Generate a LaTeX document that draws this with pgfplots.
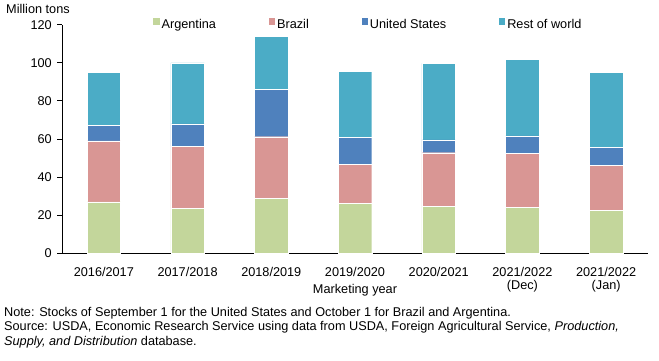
\documentclass[border=0pt]{standalone}
\usepackage{pgfplots}
\pgfplotsset{compat=1.18}
\usepackage{fontspec}
\setmainfont{Liberation Sans}
\definecolor{arg}{HTML}{C3D69B}
\definecolor{bra}{HTML}{D99694}
\definecolor{usa}{HTML}{4F81BD}
\definecolor{row}{HTML}{4BACC6}
\begin{document}
\fontsize{12.75}{13.7}\selectfont
\begin{tikzpicture}
\begin{axis}[
  at={(62bp,107.7bp)}, anchor=south west,
  scale only axis, width=586bp, height=228.6bp,
  ybar stacked, bar width=0.4,
  xmin=-0.5, xmax=6.5, ymin=0, ymax=120,
  ytick={0,20,...,120},
  xtick={0,...,6},
  xticklabels={2016/2017,2017/2018,2018/2019,2019/2020,2020/2021,{2021/2022\\(Dec)},{2021/2022\\(Jan)}},
  axis x line*=bottom, axis y line*=left,
  axis line style={black, line width=0.8bp},
  tick align=outside, major tick length=5bp,
  x tick style={draw=none},
  y tick style={black, line width=0.8bp},
  /pgf/number format/assume math mode=true,
  tick label style={font=\fontsize{12.75}{12.5}\selectfont},
  xticklabel style={align=center, anchor=north, inner sep=0pt, yshift=-9bp},
  yticklabel style={inner sep=0pt, xshift=-5bp},
  xlabel={Marketing year},
  xlabel style={at={(axis description cs:0.5,-0.178)}, anchor=base, inner sep=0pt},
  legend columns=4,
  legend style={draw=none, fill=none, at={(axis description cs:0.1536,1.0026)}, anchor=west, inner sep=0pt,
    nodes={inner sep=0pt}, /tikz/every even column/.append style={column sep=51.7bp},
    /tikz/every odd column/.append style={column sep=1.5bp}},
  legend image code/.code={\fill[#1] (0bp,0bp) rectangle (7.5bp,7.5bp);},
  every axis plot/.append style={draw=white, line width=0.4bp},
]
\addplot[fill=arg] coordinates {(0,27) (1,23.6) (2,28.7) (3,26.4) (4,24.8) (5,24.3) (6,22.4)};
\addplot[fill=bra] coordinates {(0,32) (1,32.7) (2,32.5) (3,20.3) (4,28) (5,28.3) (6,23.8)};
\addplot[fill=usa] coordinates {(0,8) (1,11.7) (2,24.7) (3,14.2) (4,6.8) (5,9.1) (6,9.4)};
\addplot[fill=row] coordinates {(0,28) (1,32) (2,28.1) (3,34.6) (4,40.1) (5,40) (6,39.5)};
\legend{Argentina,Brazil,United States,Rest of world}
\end{axis}
\node[anchor=base west, inner sep=0pt] at (6bp,347bp) {Million tons};
\node[anchor=base west, inner sep=0pt] at (4bp,44bp) {Note: Stocks of September 1 for the United States and October 1 for Brazil and Argentina.};
\node[anchor=base west, inner sep=0pt] at (4bp,30.3bp) {Source: USDA, Economic Research Service using data from USDA, Foreign Agricultural Service, \textit{Production,}};
\node[anchor=base west, inner sep=0pt] at (4bp,16bp) {\textit{Supply, and Distribution} database.};
\pgfresetboundingbox
\path (0,0) rectangle (659bp,361bp);
\end{tikzpicture}
\end{document}
